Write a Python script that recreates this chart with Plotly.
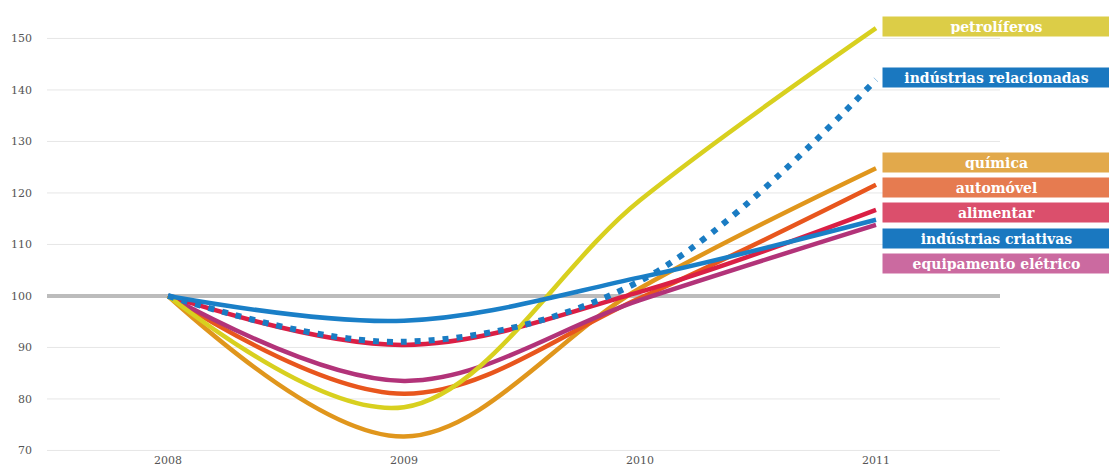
import plotly.graph_objects as go

# ---- data ----
years = [2008, 2009, 2010, 2011]
tick_labels = ["2008", "2009", "2010", "2011"]
baseline = 100

petroliferos = [100, 78.4, 118.6, 152.0]
industrias_relacionadas = [100, 91.1, 102.9, 142.0]
quimica = [100, 72.7, 101.5, 124.8]
automovel = [100, 81.0, 99.6, 121.6]
alimentar = [100, 90.5, 100.8, 116.7]
industrias_criativas = [100, 95.2, 103.6, 114.8]
equipamento_eletrico = [100, 83.5, 99.2, 113.8]

y_ticks = [70, 80, 90, 100, 110, 120, 130, 140, 150]

# ---- styles ----
series = [
    ("química", quimica, "#e0961c", "solid", "#e2a94b", 125.97),
    ("automóvel", automovel, "#e8561d", "solid", "#e67b50", 121.0),
    ("equipamento elétrico", equipamento_eletrico, "#b23379", "solid", "#cb6aa0", 106.21),
    ("alimentar", alimentar, "#da1f45", "solid", "#db4f6c", 116.11),
    ("petrolíferos", petroliferos, "#d8d01f", "solid", "#dccd47", 152.36),
    ("indústrias criativas", industrias_criativas, "#1a7fc7", "solid", "#1a78c0", 111.12),
    ("indústrias relacionadas", industrias_relacionadas, "#1a7cc3", "6px,8px", "#1a78c0", 142.38),
]

fig = go.Figure()
for name, vals, color, dash, box, ly in series:
    fig.add_trace(go.Scatter(
        x=years, y=vals, mode="lines", name=name,
        line=dict(color=color, width=4.5 if dash == "solid" else 6, shape="spline",
                  smoothing=1.0, dash=dash),
        hoverinfo="skip", showlegend=False,
    ))

# reference line at 100 (gridlines skip this value)
fig.add_shape(type="line", xref="paper", x0=0, x1=1, yref="y", y0=baseline, y1=baseline,
              line=dict(color="#bcbcbc", width=4), layer="below")

for name, vals, color, dash, box, ly in series:
    fig.add_annotation(
        x=2011.0254, y=ly, xref="x", yref="y", xanchor="left", yanchor="middle",
        text="<b>" + name + "</b>", showarrow=False,
        width=223, height=15, borderpad=2, bgcolor=box, align="center",
        font=dict(family="DejaVu Serif", size=14, color="white"),
    )

fig.update_layout(
    width=1109, height=473,
    margin=dict(l=47, r=109, t=2, b=21),
    paper_bgcolor="white", plot_bgcolor="white",
    xaxis=dict(range=[2007.4873, 2011.5254], tickvals=years, ticktext=tick_labels,
               showgrid=False, zeroline=False, showline=False, ticks="",
               tickfont=dict(family="DejaVu Serif", size=11, color="#555555")),
    yaxis=dict(range=[69.7, 157.08], tickvals=y_ticks, showgrid=False,
               zeroline=False, showline=False,
               ticks="", ticklabelstandoff=14,
               tickfont=dict(family="DejaVu Serif", size=11, color="#555555")),
)

# light gridlines at every tick except the baseline
for t in y_ticks:
    if t != baseline:
        fig.add_shape(type="line", xref="paper", x0=0, x1=1, yref="y", y0=t, y1=t,
                      line=dict(color="#e6e6e6", width=1), layer="below")

fig.write_html("out.html")
